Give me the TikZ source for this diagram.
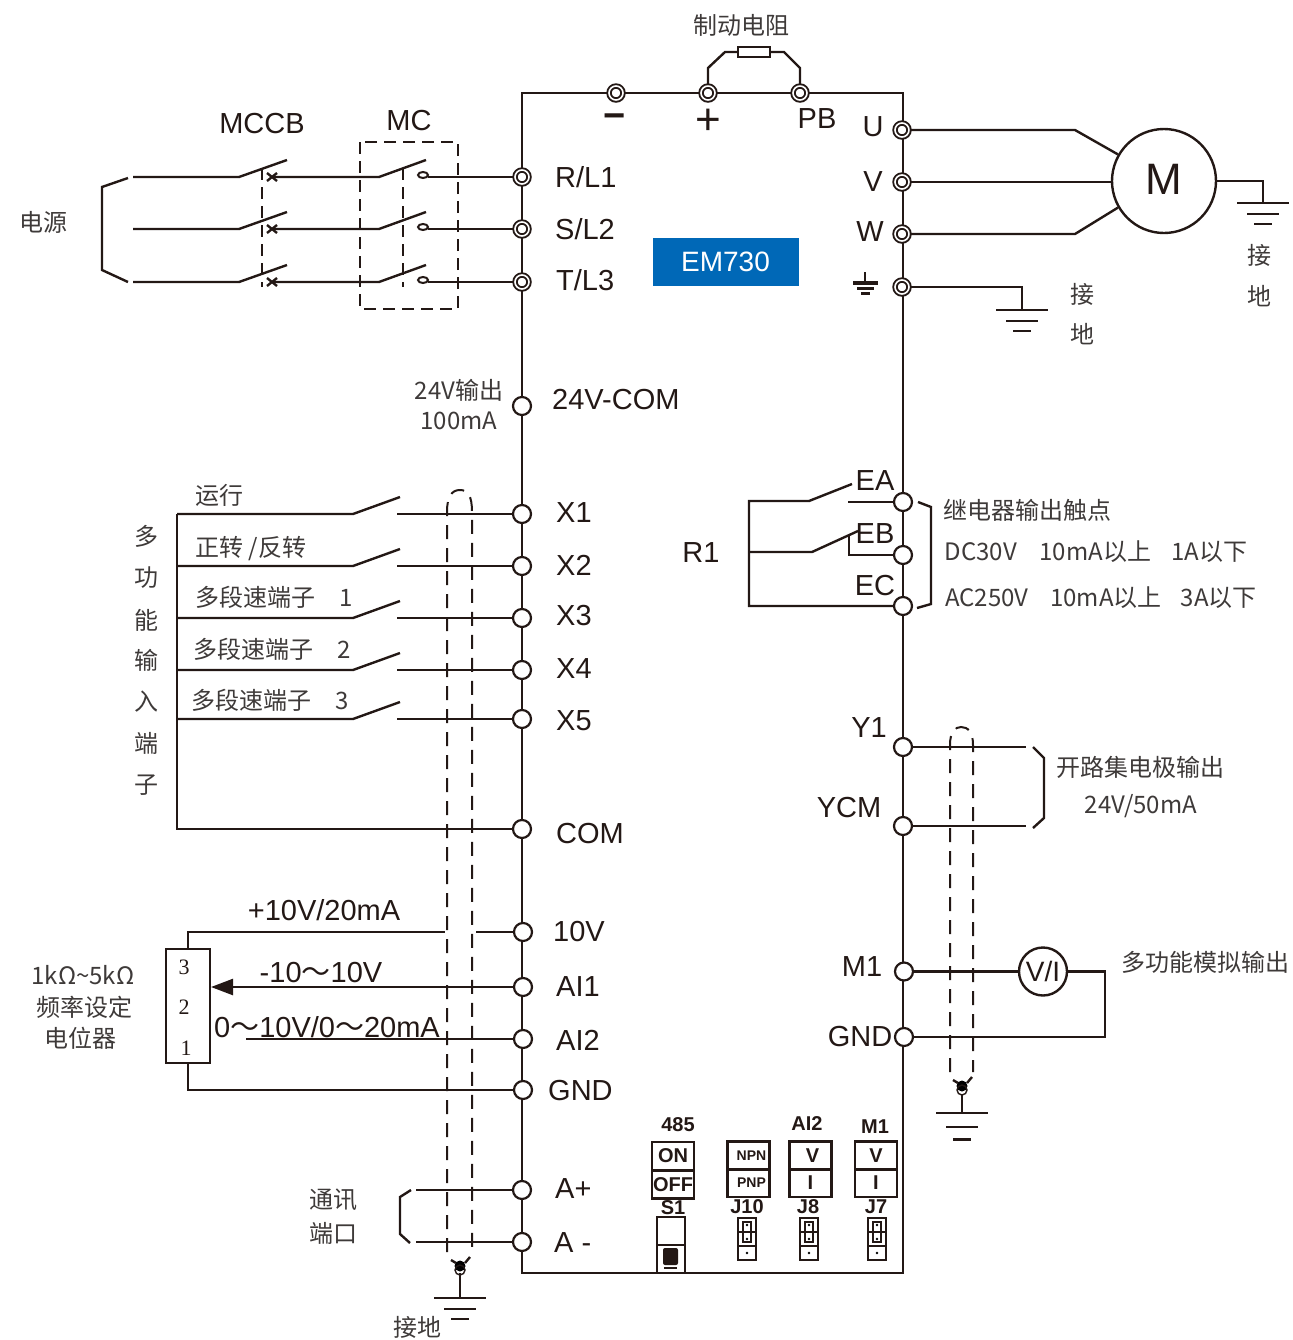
\documentclass[tikz,border=0pt]{standalone}
\usepackage{fontspec}
\setmainfont{Liberation Sans}
\newfontfamily\cjk{Noto Sans CJK SC}
\newfontfamily\serifnum{Liberation Serif}
\usetikzlibrary{arrows.meta}
\definecolor{wire}{HTML}{231815}
\definecolor{zhgray}{HTML}{3E3A39}
\definecolor{embox}{HTML}{0068B7}
\tikzset{
  term/.style={circle, draw=wire, fill=white, line width=1.1pt, minimum size=9pt, inner sep=0pt},
  termd/.style={circle, draw=wire, fill=white, line width=.95pt, double=white, double distance=.8pt, minimum size=7pt, inner sep=0pt},
  lab/.style={inner sep=0pt, text=wire, font=\fontsize{14.5}{14.5}\selectfont},
  labw/.style={lab, anchor=west},
  zh/.style={inner sep=0pt, text=zhgray, font=\cjk\fontsize{12}{14}\selectfont},
  tiny_lab/.style={inner sep=0pt, text=wire, font=\bfseries\fontsize{10}{10}\selectfont},
  swbox/.style={draw=wire, line width=1.1pt, minimum width=21pt, minimum height=14pt, inner sep=0pt, text=wire, font=\bfseries\fontsize{10}{10}\selectfont},
  shield/.style={line width=1pt, dash pattern=on 7pt off 4.5pt},
  earth/.pic={
    \draw (-26,0) -- (26,0);
    \draw (-16,11) -- (16,11);
    \draw (-9,21) -- (9,21);
  },
  jumper/.pic={
    \draw (-9,0) rectangle (9,42);
    \draw (-9,14) -- (9,14);
    \draw (-9,28) -- (9,28);
    \draw[line width=.8pt] (-4,4) rectangle (4,24);
    \fill (0,7) circle (.7pt);
    \fill (0,21) circle (.7pt);
    \fill (0,35) circle (.7pt);
  },
  knob/.pic={
    \fill circle (5.5);
    \draw[line width=.7pt] (0,4) circle (5);
    \draw (-9,-6) -- (-4,-3);
    \draw (10,-9) -- (5,-3);
  }
}
\begin{document}
\begin{tikzpicture}[x=0.5pt, y=-0.5pt, line width=1.2pt, draw=wire]
  \useasboundingbox (0,0) rectangle (1293,1340);

  % cornice
  \coordinate (tl_corner) at (522,93);
  \coordinate (tr_corner) at (903,93);
  \coordinate (br_corner) at (903,1273);
  \coordinate (bl_corner) at (522,1273);
  \draw (tl_corner) -- (tr_corner) -- (br_corner) -- (bl_corner) -- cycle;

  % morsetti alto
  \node[termd] (neg_node) at (616,93) {};
  \node[termd] (pos_node) at (708,93) {};
  \node[termd] (pb_node) at (800,93) {};

  % morsetti sinistra
  \node[termd] (rl1_node) at (522,177) {};
  \node[termd] (sl2_node) at (522,229) {};
  \node[termd] (tl3_node) at (522,282) {};
  \node[term] (com24_node) at (522,406) {};
  \node[term] (x1_node) at (522,514) {};
  \node[term] (x2_node) at (522,566) {};
  \node[term] (x3_node) at (522,618) {};
  \node[term] (x4_node) at (522,670) {};
  \node[term] (x5_node) at (522,719) {};
  \node[term] (com_node) at (522,829) {};
  \node[term] (v10_node) at (523,932) {};
  \node[term] (ai1_node) at (523,987) {};
  \node[term] (ai2_node) at (523,1039) {};
  \node[term] (gnd_node) at (523,1090) {};
  \node[term] (ap_node) at (522,1190) {};
  \node[term] (an_node) at (522,1242) {};

  % morsetti destra
  \node[termd] (u_node) at (902,130) {};
  \node[termd] (v_node) at (902,182) {};
  \node[termd] (w_node) at (902,234) {};
  \node[termd] (pe_node) at (902,287) {};
  \node[term] (ea_node) at (903,502) {};
  \node[term] (eb_node) at (903,555) {};
  \node[term] (ec_node) at (903,606) {};
  \node[term] (y1_node) at (903,747) {};
  \node[term] (ycm_node) at (903,826) {};
  \node[term] (m1_node) at (904,971.5) {};
  \node[term] (gnd2_node) at (904,1037) {};

  % etichette morsetti
  \node[labw] (rl1_label) at (554,177) {R/L1};
  \node[labw] (sl2_label) at (554,229) {S/L2};
  \node[labw] (tl3_label) at (555,280) {T/L3};
  \node[labw] (com24_label) at (551,400) {24V-COM};
  \node[labw] (x1_label) at (555,513) {X1};
  \node[labw] (x2_label) at (555,565) {X2};
  \node[labw] (x3_label) at (555,616) {X3};
  \node[labw] (x4_label) at (555,669) {X4};
  \node[labw] (x5_label) at (555,721) {X5};
  \node[labw] (com_label) at (555,834) {COM};
  \node[labw] (v10_label) at (552,932) {10V};
  \node[labw] (ai1_label) at (555,987) {AI1};
  \node[labw] (ai2_label) at (555,1040) {AI2};
  \node[labw] (gnd_label) at (547,1091) {GND};
  \node[labw] (ap_label) at (554,1189) {A+};
  \node[labw] (an_label) at (553,1243) {A -};
  \node[lab, font=\bfseries\fontsize{19}{19}\selectfont] (neg_label) at (615,121) {−};
  \node[lab, font=\fontsize{22}{22}\selectfont] (pos_label) at (708,122) {+};
  \node[lab] (pb_label) at (817,119) {PB};
  \node[lab] (u_label) at (873,127) {U};
  \node[lab] (v_label) at (873,182) {V};
  \node[lab] (w_label) at (870,232) {W};
  \node[lab] (ea_label) at (875,481) {EA};
  \node[lab] (eb_label) at (875,534) {EB};
  \node[lab] (ec_label) at (875,586) {EC};
  \node[lab] (r1_label) at (701,553) {R1};
  \node[lab] (y1_label) at (869,728) {Y1};
  \node[lab] (ycm_label) at (849,808) {YCM};
  \node[lab] (m1_label) at (862,967) {M1};
  \node[lab] (gnd2_label) at (860,1037) {GND};
  \node[lab] (mccb_label) at (262,124) {MCCB};
  \node[lab] (mc_label) at (409,121) {MC};

  % modello
  \node[fill=embox, minimum width=73pt, minimum height=24pt, inner sep=0pt, text=white, font=\fontsize{14}{14}\selectfont] (em730_node) at (725.5,262) {EM730};

  % simbolo di terra
  \coordinate (pe_stem) at (865,272);
  \coordinate (pe_base) at (865,283);
  \draw (pe_stem) -- (pe_base);
  \draw[line width=1.6pt] (853,283) -- (878,283);
  \draw[line width=1.6pt] (857,288.5) -- (874,288.5);
  \draw[line width=1.6pt] (861,293.5) -- (870,293.5);

  % resistenza di frenatura
  \node[draw=wire, fill=white, minimum width=16pt, minimum height=5pt, inner sep=0pt] (brake_node) at (754,52) {};
  \draw (pos_node) -- (708,68) -- (725,52) -- (brake_node);
  \draw (pb_node) -- (800,68) -- (784,52) -- (brake_node);
  \node[zh] (brake_label) at (741,25) {制动电阻};

  % alimentazione
  \node[zh] (power_label) at (43,222) {电源};
  \draw (128,178) -- (102,187) -- (102,270) -- (128,282);
  \foreach \nm/\yy in {rl1/177, sl2/229, tl3/282}{
    \coordinate (line_\nm) at (133,\yy);
    \coordinate (mccb_\nm) at (239,\yy);
    \coordinate (mcin_\nm) at (379,\yy);
    \coordinate (mcout_\nm) at (428,\yy);
    \draw (line_\nm) -- (mccb_\nm) -- (287,\yy-17);
    \draw (272,\yy) -- (mcin_\nm) -- (426,\yy-17);
    \draw (267,\yy-4) -- (277,\yy+4);
    \draw (267,\yy+4) -- (277,\yy-4);
    \draw[line width=1pt] (423,\yy-2) ellipse (5 and 3);
    \draw (\nm_node) -- (mcout_\nm);
  }
  \draw[line width=1pt, dash pattern=on 6pt off 3.5pt] (262,168) -- (262,287);
  \draw[line width=1pt, dash pattern=on 6pt off 3.5pt] (403,168) -- (403,287);
  \draw[line width=1pt, dash pattern=on 6pt off 3.5pt] (360,142) rectangle (458,309);

  % motore
  \node[circle, draw=wire, fill=white, minimum size=52pt, inner sep=0pt, text=wire, font=\fontsize{22}{22}\selectfont] (m_node) at (1164,181) {\raisebox{2pt}{M}};
  \draw (u_node) -- (1075,130) -- (m_node.150);
  \draw (v_node) -- (m_node.west |- v_node);
  \draw (w_node) -- (1075,234) -- (m_node.210);
  \coordinate (m_earth) at (1263,203);
  \draw (m_node.east) -- (1263,181) -- (m_earth);
  \pic at (m_earth) {earth};
  \node[zh] (m_earth1) at (1259,255) {接};
  \node[zh] (m_earth2) at (1259,296) {地};

  % terra morsetto
  \coordinate (pe_earth) at (1022,310);
  \draw (pe_node) -- (1022,287) -- (pe_earth);
  \pic at (pe_earth) {earth};
  \node[zh] (pe_earth1) at (1082,294) {接};
  \node[zh] (pe_earth2) at (1082,334) {地};

  % uscita 24V
  \node[zh] (out24_label) at (459,390) {24V输出};
  \node[zh] (out100_label) at (459,421) {100mA};

  % ingressi
  \foreach \nm/\yy in {x1/514, x2/566, x3/618, x4/670, x5/719}{
    \coordinate (in_\nm) at (177,\yy);
    \coordinate (blade_\nm) at (353,\yy);
    \coordinate (fix_\nm) at (397,\yy);
    \draw (in_\nm) -- (blade_\nm) -- (400,\yy-17);
    \draw (\nm_node) -- (fix_\nm);
  }
  \coordinate (in_com) at (177,829);
  \draw (in_x1) -- (in_com) -- (com_node);
  \node[zh] (x1_text) at (219,495) {运行};
  \node[zh] (x2_text) at (251,549) {正转 /反转};
  \node[zh] (x3_text) at (274,597) {多段速端子\hspace{1em}1};
  \node[zh] (x4_text) at (272,649) {多段速端子\hspace{1em}2};
  \node[zh] (x5_text) at (270,700) {多段速端子\hspace{1em}3};
  \node[zh] (in1_text) at (146,536) {多};
  \node[zh] (in2_text) at (146,578) {功};
  \node[zh] (in3_text) at (146,620) {能};
  \node[zh] (in4_text) at (146,660) {输};
  \node[zh] (in5_text) at (146,702) {入};
  \node[zh] (in6_text) at (146,743) {端};
  \node[zh] (in7_text) at (146,785) {子};

  % potenziometro
  \node[draw=wire, minimum width=22pt, minimum height=57pt, inner sep=0pt] (pot_node) at (188,1006) {};
  \node[inner sep=0pt, text=wire, font=\serifnum\fontsize{11}{11}\selectfont] (pot3) at (184,967) {3};
  \node[inner sep=0pt, text=wire, font=\serifnum\fontsize{11}{11}\selectfont] (pot2) at (184,1007) {2};
  \node[inner sep=0pt, text=wire, font=\serifnum\fontsize{11}{11}\selectfont] (pot1) at (186,1048) {1};
  \coordinate (v10_left) at (445,932);
  \coordinate (v10_right) at (476,932);
  \coordinate (pot_tip) at (211,987);
  \coordinate (ai2_end) at (246,1039);
  \draw (pot_node.north) -- (188,932) -- (v10_left);
  \draw (v10_node) -- (v10_right);
  \draw[-{Triangle[length=11pt,width=8pt]}] (ai1_node) -- (pot_tip);
  \draw (ai2_node) -- (ai2_end);
  \draw (pot_node.south) -- (188,1090) -- (gnd_node);
  \node[lab] (v10_text) at (324,910) {+10V/20mA};
  \node[lab] (ai1_text) at (321,973) {-10{\cjk ～}10V};
  \node[lab] (ai2_text) at (327,1027) {0{\cjk ～}10V/0{\cjk ～}20mA};
  \node[zh] (pot_text1) at (83,975) {1kΩ\char"007E 5kΩ};
  \node[zh] (pot_text2) at (84,1007) {频率设定};
  \node[zh] (pot_text3) at (80,1038) {电位器};

  % comunicazione
  \coordinate (ap_end) at (416,1190);
  \coordinate (an_end) at (416,1242);
  \draw (ap_node) -- (ap_end);
  \draw (an_node) -- (an_end);
  \draw (411,1190) -- (400,1197) -- (400,1234) -- (410,1243);
  \node[zh] (comm_text1) at (333,1200) {通讯};
  \node[zh] (comm_text2) at (333,1233) {端口};

  % schermi
  \draw[shield] (447,1252) -- (447,512) .. controls (447,496) and (452,490) .. (460,490) .. controls (468,490) and (472,496) .. (472,512) -- (472,1248);
  \pic at (460,1266) {knob};
  \coordinate (shield1_earth) at (460,1298);
  \draw (460,1273) -- (shield1_earth);
  \pic at (shield1_earth) {earth};
  \node[zh] (shield1_text) at (417,1327) {接地};

  \draw[shield] (950,1072) -- (950,745) .. controls (950,732) and (955,727) .. (961,727) .. controls (968,727) and (973,732) .. (973,745) -- (973,1072);
  \pic at (962,1086) {knob};
  \coordinate (shield2_earth) at (962,1113);
  \draw (962,1094) -- (shield2_earth);
  \pic[yscale=1.27] at (shield2_earth) {earth};

  % rele
  \coordinate (relay_top) at (749,501);
  \coordinate (relay_mid) at (749,552);
  \coordinate (relay_bot) at (749,606);
  \draw (852,484) -- (809,501) -- (relay_top) -- (relay_bot) -- (ec_node);
  \draw (relay_mid) -- (812,552) -- (858,531);
  \coordinate (ea_end) at (848,502);
  \draw (ea_node) -- (ea_end);
  \draw (eb_node) -- (849,555) -- (849,535);
  \draw (918,502) -- (931,507) -- (931,604) -- (917,608);
  \node[zh] (relay_text1) at (1027,510) {继电器输出触点};
  \node[zh] (relay_text2) at (1096,552) {DC30V\hspace{.95em}10mA以上\hspace{.85em}1A以下};
  \node[zh] (relay_text3) at (1101,598) {AC250V\hspace{.9em}10mA以上\hspace{.8em}3A以下};

  % collettore aperto
  \coordinate (y1_end) at (1026,747);
  \coordinate (ycm_end) at (1026,826);
  \draw (y1_node) -- (y1_end);
  \draw (ycm_node) -- (ycm_end);
  \draw (1033,747) -- (1044,758) -- (1044,818) -- (1033,828);
  \node[zh] (oc_text1) at (1140,767) {开路集电极输出};
  \node[zh] (oc_text2) at (1141,806) {24V/50mA};

  % uscita analogica
  \node[circle, draw=wire, fill=white, minimum size=24pt, inner sep=0pt, text=wire, font=\fontsize{14}{14}\selectfont] (vi_node) at (1043,971.5) {V/I};
  \draw (m1_node) -- (vi_node);
  \draw (vi_node) -- (1105,971.5) -- (1105,1037) -- (gnd2_node);
  \node[zh] (vi_text) at (1205,962) {多功能模拟输出};

  % selettori
  \node[tiny_lab] (s485_text) at (678,1125) {485};
  \node[swbox] (on_node) at (673,1156) {ON};
  \node[swbox] (off_node) at (673,1184.5) {OFF};
  \node[tiny_lab] (s1_text) at (673,1208) {S1};
  \node[draw=wire, fill=white, minimum width=14pt, minimum height=14pt, inner sep=0pt] (s1a_node) at (671,1231) {};
  \node[draw=wire, fill=white, minimum width=14pt, minimum height=14pt, inner sep=0pt] (s1b_node) at (671,1259) {};
  \fill[wire, rounded corners=1pt] (663,1248) rectangle (678,1265);
  \draw[line width=.8pt] (664,1268) -- (677,1268);

  \node[swbox, font=\bfseries\fontsize{7}{7}\selectfont] (npn_node) at (748.5,1155.5) {\hspace*{3pt}NPN};
  \node[swbox, font=\bfseries\fontsize{7}{7}\selectfont] (pnp_node) at (748.5,1183) {\hspace*{3pt}PNP};
  \node[tiny_lab] (j10_text) at (747,1207) {J10};
  \pic at (747,1218) {jumper};

  \node[tiny_lab] (ai2s_text) at (807,1124) {AI2};
  \node[swbox] (ai2v_node) at (810.5,1155.5) {\hspace*{2pt}V};
  \node[swbox] (ai2i_node) at (810.5,1183) {I};
  \node[tiny_lab] (j8_text) at (808,1207) {J8};
  \pic at (809,1218) {jumper};

  \node[tiny_lab] (m1s_text) at (875,1127) {M1};
  \node[swbox] (m1v_node) at (876,1155.5) {V};
  \node[swbox] (m1i_node) at (876,1183) {I};
  \node[tiny_lab] (j7_text) at (876,1207) {J7};
  \pic at (877,1218) {jumper};
\end{tikzpicture}
\end{document}
